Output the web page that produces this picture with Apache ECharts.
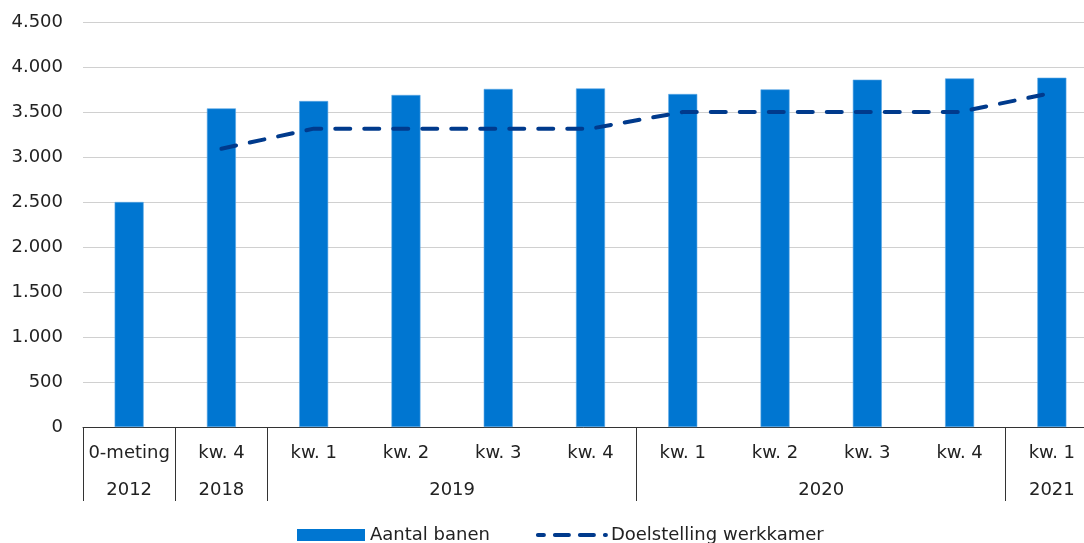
<!DOCTYPE html>
<html>
<head>
<meta charset="utf-8">
<script src="https://cdn.jsdelivr.net/npm/echarts@6/dist/echarts.min.js"></script>
<style>html,body{margin:0;padding:0;background:#fff;}#c{width:1084px;height:543px;}</style>
</head>
<body>
<div id="c"></div>
<script>
const categories = ['0-meting','kw. 4','kw. 1','kw. 2','kw. 3','kw. 4','kw. 1','kw. 2','kw. 3','kw. 4','kw. 1'];
const years = ['2012','2018','2019','2020','2021'];
const yearGroupSizes = [1,1,4,4,1];
const aantalBanen = [2500,3540,3622,3689,3756,3762,3700,3751,3859,3873,3881];
const doelstelling = [null,3092,3315,3315,3315,3315,3500,3500,3500,3500,3712];
const seriesNames = ['Aantal banen','Doelstelling werkkamer'];

const boundaries = [0];
yearGroupSizes.forEach(s => boundaries.push(boundaries[boundaries.length-1] + s));
const yearCenters = yearGroupSizes.map((s,i) => boundaries[i] + s/2);

const FONT = 'DejaVu Sans';
const chart = echarts.init(document.getElementById('c'));
chart.setOption({
  animation: false,
  textStyle: {fontFamily: FONT},
  grid: {left: 83, top: 22, width: 1015, height: 405, containLabel: false, outerBoundsMode: 'none'},
  legend: {
    left: 297, top: 526, padding: 0, itemWidth: 68, itemHeight: 12, itemGap: 46,
    textStyle: {fontFamily: FONT, fontSize: 18, color: '#222'},
    data: [
      {name: seriesNames[0], icon: 'rect', itemStyle: {borderWidth: 0}},
      {name: seriesNames[1], itemStyle: {opacity: 0},
       lineStyle: {width: 4, type: [14, 11], cap: 'round', dashOffset: 8}}
    ]
  },
  xAxis: [{
    type: 'category', data: categories, boundaryGap: true,
    axisLine: {show: true, lineStyle: {color: '#333', width: 1}},
    axisTick: {show: false},
    axisLabel: {margin: 17, fontSize: 18, color: '#222', fontFamily: FONT, interval: 0}
  }, {
    type: 'value', min: 0, max: categories.length, position: 'bottom',
    axisLine: {show: false},
    splitLine: {show: false},
    axisTick: {show: true, customValues: boundaries, length: 74, lineStyle: {color: '#333', width: 1}},
    axisLabel: {
      customValues: yearCenters, margin: 54, fontSize: 18, color: '#222', fontFamily: FONT,
      formatter: v => { const i = yearCenters.indexOf(v); return i >= 0 ? years[i] : ''; }
    }
  }],
  yAxis: {
    type: 'value', min: 0, max: 4500, interval: 500,
    axisLine: {show: false}, axisTick: {show: false},
    splitLine: {lineStyle: {color: '#d0d0d0', width: 1}},
    axisLabel: {
      margin: 20, fontSize: 18, color: '#222', fontFamily: FONT,
      formatter: v => String(v).replace(/\B(?=(\d{3})+(?!\d))/g, '.')
    }
  },
  series: [{
    name: seriesNames[0], type: 'bar', data: aantalBanen, barWidth: 29,
    itemStyle: {color: '#0076d1', borderColor: '#5aa8e6', borderWidth: 0.6}
  }, {
    name: seriesNames[1], type: 'line', data: doelstelling, xAxisIndex: 0,
    symbol: 'none', connectNulls: false,
    lineStyle: {color: '#003a8c', width: 4, type: [15, 14], cap: 'round'},
    itemStyle: {color: '#003a8c'}
  }]
});
</script>
</body>
</html>
